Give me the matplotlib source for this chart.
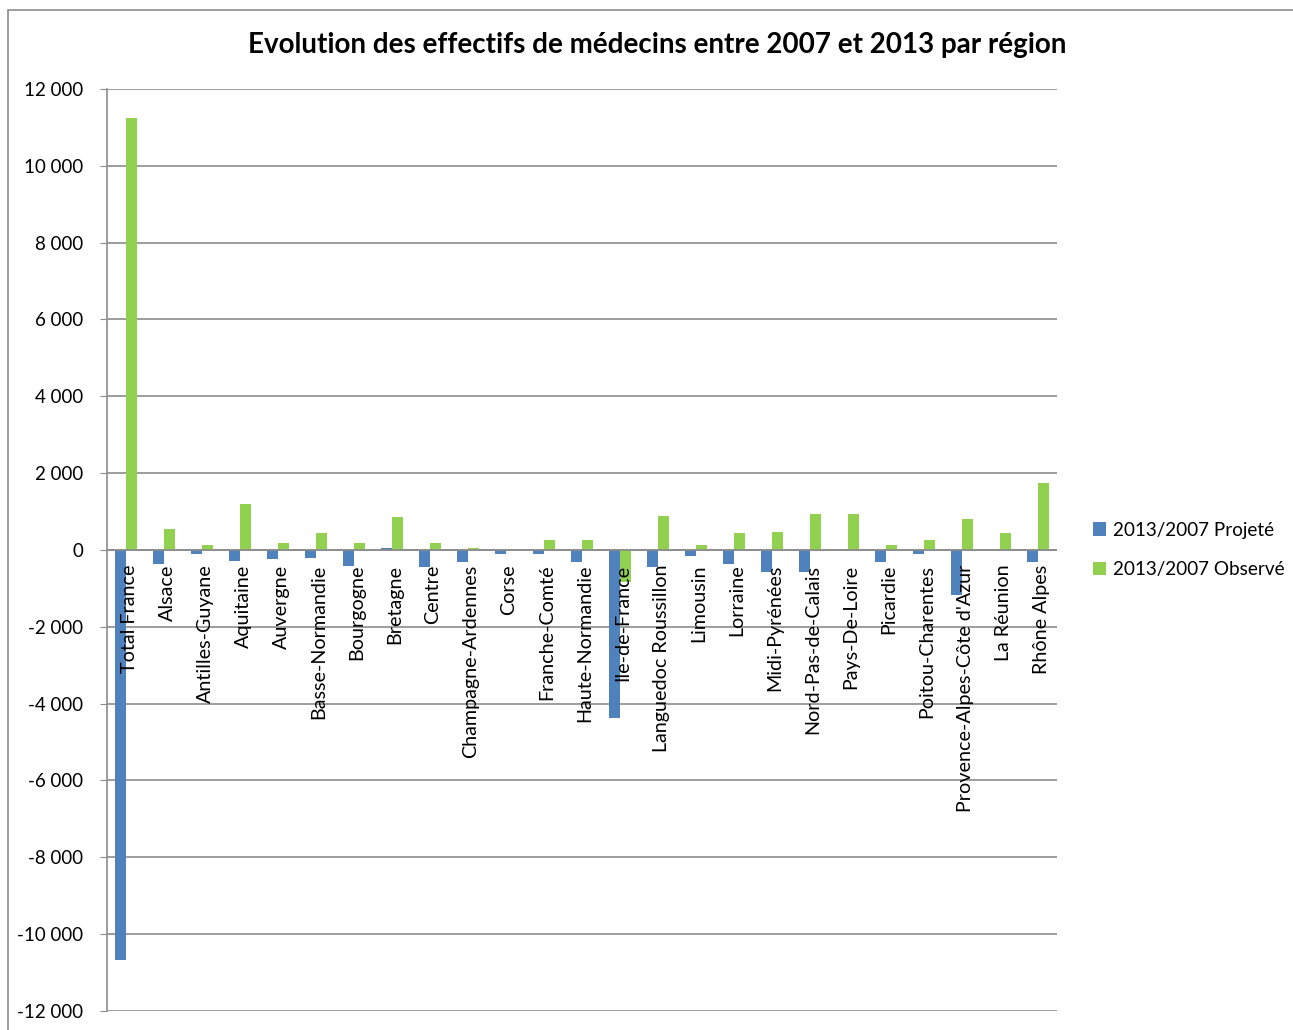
import numpy as np
import matplotlib.pyplot as plt
from matplotlib.patches import Rectangle

regions = ["Total France", "Alsace", "Antilles-Guyane", "Aquitaine", "Auvergne",
           "Basse-Normandie", "Bourgogne", "Bretagne", "Centre", "Champagne-Ardennes",
           "Corse", "Franche-Comté", "Haute-Normandie", "Ile-de-France",
           "Languedoc Roussillon", "Limousin", "Lorraine", "Midi-Pyrénées",
           "Nord-Pas-de-Calais", "Pays-De-Loire", "Picardie", "Poitou-Charentes",
           "Provence-Alpes-Côte d'Azur", "La Réunion", "Rhône Alpes"]
projete = [-10680, -365, -113, -278, -243, -200, -408, 52, -451, -321,
           -113, -113, -321, -4375, -451, -156, -365, -573,
           -573, -10, -321, -113, -1163, -10, -321]
observe = [11250, 555, 140, 1190, 182, 434, 182, 851, 182, 52,
           10, 260, 260, -833, 894, 140, 434, 477,
           937, 937, 140, 260, 807, 434, 1736]
yticks = list(range(-12000, 12001, 2000))

plt.rcParams['font.family'] = ['Lato', 'DejaVu Sans']

fig = plt.figure(figsize=(12.93, 10.30), dpi=100)
ax = fig.add_axes([0.0828, 0.0185, 0.7347, 0.8951])

# outer chart border
fig.patches.append(Rectangle((8 / 1293, -0.02), 1.02, 1 - 10 / 1030 + 0.02,
                             transform=fig.transFigure, fill=False,
                             edgecolor='#8c8c8c', linewidth=1.2))

x = np.arange(len(regions))
w = 0.285
blue = '#4F81BD'
green = '#92D050'
ax.bar(x - w / 2, projete, w, color=blue, label='2013/2007 Projeté', zorder=3)
ax.bar(x + w / 2, observe, w, color=green, label='2013/2007 Observé', zorder=3)

ax.set_xlim(-0.5, len(regions) - 0.5)
ax.set_ylim(-12000, 12000)
ax.set_yticks(yticks)
ax.set_yticklabels([f"{v:,}".replace(",", " ") for v in yticks], fontsize=13.5)
ax.yaxis.grid(True, color='#8c8c8c', linewidth=1.2, zorder=0)
ax.set_xticks([])
ax.tick_params(axis='y', length=5, color='#8c8c8c', pad=12)
for s in ['top', 'right', 'bottom']:
    ax.spines[s].set_visible(False)
ax.spines['left'].set_color('#8c8c8c')
ax.spines['left'].set_linewidth(1.2)
ax.axhline(0, color='#8c8c8c', linewidth=1.2, zorder=4)

for i, name in enumerate(regions):
    ax.text(i + 0.08, -380, name, rotation=90, ha='center', va='top',
            fontsize=14.2, zorder=5)

fig.text(0.5085, 0.956, "Evolution des effectifs de médecins entre 2007 et 2013 par région",
         ha='center', va='center', fontsize=20, fontweight='bold')

fig.legend(loc='center left', bbox_to_anchor=(1093 / 1293, 0.466), frameon=False,
           fontsize=13.6, handlelength=0.7, handleheight=0.7, handletextpad=0.35,
           labelspacing=1.2, borderpad=0, borderaxespad=0)

fig.savefig('out.png', dpi=100)
